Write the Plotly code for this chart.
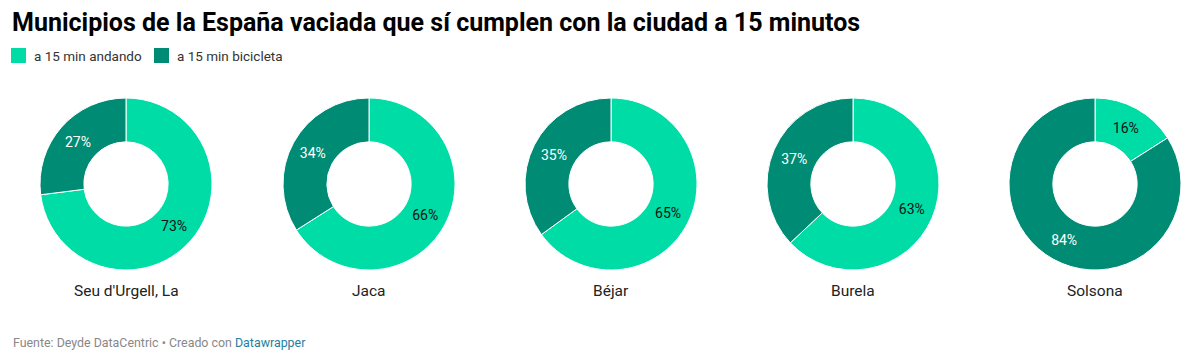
import plotly.graph_objects as go

towns = ["Seu d'Urgell, La", "Jaca", "Béjar", "Burela", "Solsona"]
andando = [73, 66, 65, 63, 16]
bicicleta = [27, 34, 35, 37, 84]
series_names = ["a 15 min andando", "a 15 min bicicleta"]
colors = ["#00dca6", "#008c74"]

W, H = 1192, 357
centers_x = [126, 369, 611, 853, 1095]
cy = 184
R = 86

fig = go.Figure()
for i, t in enumerate(towns):
    cx = centers_x[i]
    fig.add_trace(go.Pie(
        labels=series_names,
        values=[andando[i], bicicleta[i]],
        hole=0.49,
        sort=False,
        direction="clockwise",
        rotation=0,
        marker=dict(colors=colors, line=dict(color="white", width=1)),
        textinfo="percent",
        texttemplate="%{percent:.0%}",
        textposition="inside",
        insidetextorientation="horizontal",
        insidetextfont=dict(color=["#111111", "#ffffff"], size=14, family="Roboto"),
        hoverinfo="label+percent",
        showlegend=False,
        domain=dict(x=[(cx - R) / W, (cx + R) / W], y=[(H - cy - R) / H, (H - cy + R) / H]),
        name=t,
    ))
    fig.add_annotation(
        x=cx / W, y=(H - 291) / H, xref="paper", yref="paper",
        text=t, showarrow=False, xanchor="center", yanchor="middle",
        font=dict(size=15.5, color="#222222", family="Roboto"),
    )

# legend (custom swatches)
legend_x = [11, 154]
for j, name in enumerate(series_names):
    x0 = legend_x[j]
    fig.add_shape(
        type="rect", xref="paper", yref="paper",
        x0=x0 / W, x1=(x0 + 15) / W, y0=(H - 63) / H, y1=(H - 48) / H,
        fillcolor=colors[j], line=dict(width=0),
    )
    fig.add_annotation(
        x=(x0 + 21) / W, y=(H - 55.5) / H, xref="paper", yref="paper",
        text=name, showarrow=False, xanchor="left", yanchor="middle",
        font=dict(size=13.5, color="#333333", family="Roboto"),
    )

fig.add_annotation(
    x=10 / W, y=(H - 22) / H, xref="paper", yref="paper",
    text="<b>Municipios de la España vaciada que sí cumplen con la ciudad a 15 minutos</b>",
    showarrow=False, xanchor="left", yanchor="middle",
    font=dict(size=25, color="#000000", family="Roboto"),
)
fig.add_annotation(
    x=11 / W, y=(H - 342) / H, xref="paper", yref="paper",
    text="Fuente: Deyde DataCentric • Creado con <span style='color:#1d81a2'>Datawrapper</span>",
    showarrow=False, xanchor="left", yanchor="middle",
    font=dict(size=12.4, color="#888888", family="Roboto"),
)

fig.update_layout(
    width=W, height=H,
    margin=dict(l=0, r=0, t=0, b=0),
    paper_bgcolor="white", plot_bgcolor="white",
    font=dict(family="Roboto", color="#333333"),
    showlegend=False,
)

fig.write_html(
    "out.html",
    config={"displayModeBar": False},
    post_script="document.body.style.margin='0';document.body.style.overflow='hidden';",
)
